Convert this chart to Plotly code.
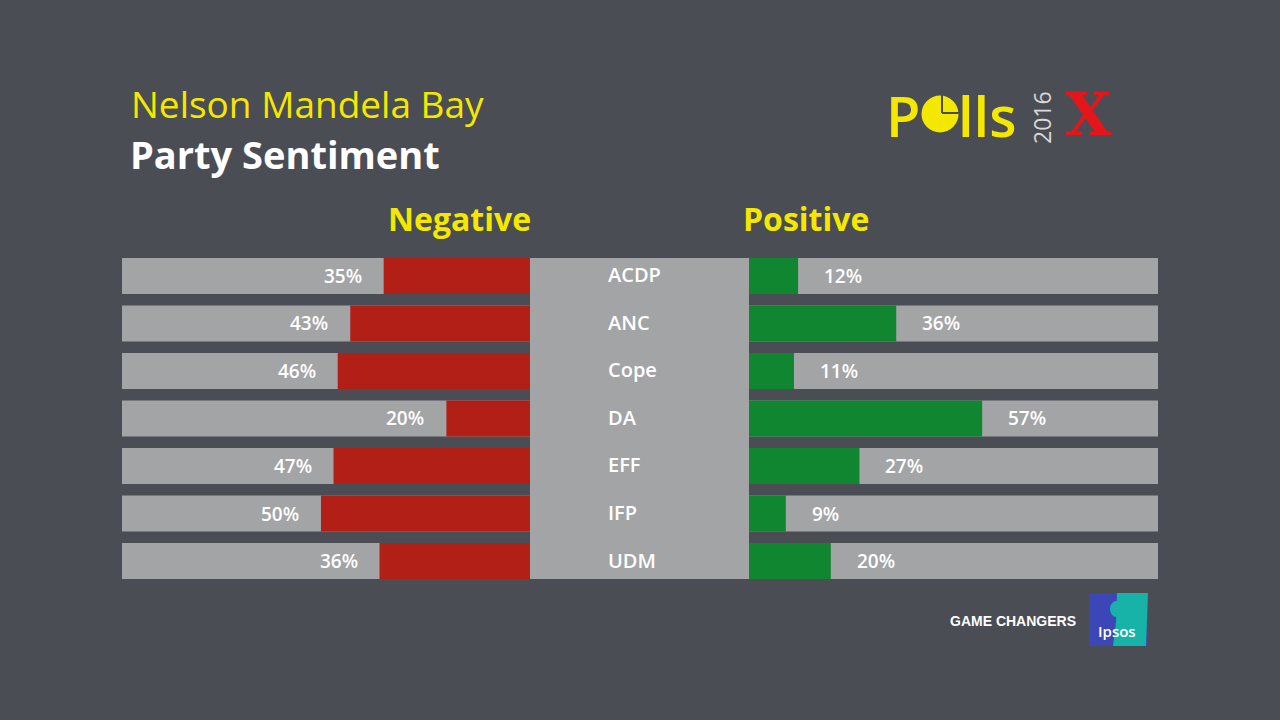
import plotly.graph_objects as go

# ---------------- data ----------------
parties = ["ACDP", "ANC", "Cope", "DA", "EFF", "IFP", "UDM"]
negative = [35, 43, 46, 20, 47, 50, 36]
positive = [12, 36, 11, 57, 27, 9, 20]
full_scale = [100, 100, 100, 100, 100, 100, 100]

title_line1 = "Nelson Mandela Bay"
title_line2 = "Party Sentiment"
neg_header = "Negative"
pos_header = "Positive"

# ---------------- style ----------------
W, H = 1280, 720
BG = "#4b4d54"
GREY = "#a3a4a6"
RED = "#b11f16"
GREEN = "#118631"
YELLOW = "#f5e800"
WHITE = "#ffffff"
FONT = "Open Sans"


def px(x):
    return x / W


def py(y):
    return 1 - y / H


fig = go.Figure()

# negative side (reversed axis)
fig.add_trace(go.Bar(y=parties, x=full_scale, orientation="h", marker=dict(color=GREY, line=dict(width=0)),
                     xaxis="x", yaxis="y", hoverinfo="skip", showlegend=False))
fig.add_trace(go.Bar(y=parties, x=negative, orientation="h", marker=dict(color=RED, line=dict(width=0)),
                     xaxis="x", yaxis="y", hoverinfo="skip", showlegend=False))
# positive side
fig.add_trace(go.Bar(y=parties, x=full_scale, orientation="h", marker=dict(color=GREY, line=dict(width=0)),
                     xaxis="x2", yaxis="y", hoverinfo="skip", showlegend=False))
fig.add_trace(go.Bar(y=parties, x=positive, orientation="h", marker=dict(color=GREEN, line=dict(width=0)),
                     xaxis="x2", yaxis="y", hoverinfo="skip", showlegend=False))

annotations = []
label_font = dict(family=FONT, size=19, color=WHITE, weight=600)
party_font = dict(family=FONT, size=20, color=WHITE, weight=600)
for p, v in zip(parties, negative):
    annotations.append(dict(x=v, y=p, xref="x", yref="y", text=f"{v}%", showarrow=False,
                            xanchor="right", yanchor="middle", xshift=-20, font=label_font))
for p, v in zip(parties, positive):
    annotations.append(dict(x=v, y=p, xref="x2", yref="y", text=f"{v}%", showarrow=False,
                            xanchor="left", yanchor="middle", xshift=24, font=label_font))
for p in parties:
    annotations.append(dict(x=px(606), y=p, xref="paper", yref="y", text=p,
                            showarrow=False, xanchor="left", yanchor="middle", yshift=1, font=party_font))

# titles
annotations += [
    dict(x=px(129), y=py(104), xref="paper", yref="paper", text=title_line1, showarrow=False,
         xanchor="left", yanchor="middle", font=dict(family=FONT, size=37, color=YELLOW)),
    dict(x=px(128), y=py(154), xref="paper", yref="paper", text=title_line2, showarrow=False,
         xanchor="left", yanchor="middle", font=dict(family=FONT, size=38, color=WHITE, weight=700)),
    dict(x=px(459), y=py(218), xref="paper", yref="paper", text=neg_header, showarrow=False,
         xanchor="center", yanchor="middle", font=dict(family=FONT, size=32, color=YELLOW, weight=700)),
    dict(x=px(806), y=py(218), xref="paper", yref="paper", text=pos_header, showarrow=False,
         xanchor="center", yanchor="middle", font=dict(family=FONT, size=32, color=YELLOW, weight=700)),
]

# Polls 2016 X logo
annotations += [
    dict(x=px(884), y=py(115), xref="paper", yref="paper", text="P", showarrow=False,
         xanchor="left", yanchor="middle", font=dict(family=FONT, size=56, color=YELLOW, weight=600)),
    dict(x=px(956), y=py(115), xref="paper", yref="paper", text="lls", showarrow=False,
         xanchor="left", yanchor="middle", font=dict(family=FONT, size=56, color=YELLOW, weight=600)),
    dict(x=px(1042), y=py(118), xref="paper", yref="paper", text="2016", showarrow=False, textangle=-90,
         xanchor="center", yanchor="middle", font=dict(family=FONT, size=23, color="#d8d8d8", weight=400)),
    dict(x=px(1088), y=py(114), xref="paper", yref="paper", text="X", showarrow=False,
         xanchor="center", yanchor="middle", font=dict(family="DejaVu Serif", size=60, color="#e3161c", weight=900)),
    dict(x=px(1013), y=py(621), xref="paper", yref="paper", text="GAME CHANGERS", showarrow=False,
         xanchor="center", yanchor="middle", font=dict(family="Liberation Sans", size=14, color=WHITE, weight=700)),
    dict(x=px(1117), y=py(631), xref="paper", yref="paper", text="Ipsos", showarrow=False,
         xanchor="center", yanchor="middle", font=dict(family=FONT, size=15, color=WHITE, weight=600)),
]

shapes = [
    # central label box
    dict(type="rect", xref="paper", yref="paper", x0=px(530), x1=px(749), y0=py(579), y1=py(258),
         fillcolor=GREY, line=dict(width=0)),
    # pie "o"
    dict(type="circle", xref="paper", yref="paper", x0=px(921.5), x1=px(958.5), y0=py(132.5), y1=py(95.5),
         fillcolor=YELLOW, line=dict(width=0)),
    dict(type="line", xref="paper", yref="paper", x0=px(942), x1=px(942), y0=py(95), y1=py(113),
         line=dict(color=BG, width=2)),
    dict(type="line", xref="paper", yref="paper", x0=px(942), x1=px(959), y0=py(113), y1=py(113),
         line=dict(color=BG, width=2)),
    # Ipsos logo
    dict(type="rect", xref="paper", yref="paper", x0=px(1089), x1=px(1148), y0=py(646), y1=py(593),
         fillcolor="#3b47b7", line=dict(width=0)),
    dict(type="path", xref="paper", yref="paper",
         path=f"M {px(1117)} {py(593)} L {px(1148)} {py(593)} L {px(1146)} {py(646)} L {px(1113)} {py(646)} "
              f"L {px(1116)} {py(622)} Z",
         fillcolor="#17b3a9", line=dict(width=0)),
    dict(type="circle", xref="paper", yref="paper", x0=px(1110), x1=px(1123), y0=py(617), y1=py(601),
         fillcolor="#17b3a9", line=dict(width=0)),
]

fig.update_layout(
    width=W, height=H,
    margin=dict(l=0, r=0, t=0, b=0),
    paper_bgcolor=BG, plot_bgcolor="rgba(0,0,0,0)",
    barmode="overlay", bargap=0.24,
    xaxis=dict(domain=[px(122), px(530)], range=[97.6, 0], visible=False, fixedrange=True),
    xaxis2=dict(domain=[px(749), px(1158)], range=[0, 100], anchor="y", visible=False, fixedrange=True),
    yaxis=dict(domain=[py(584.75), py(252.25)], range=[6.5, -0.5], type="category", visible=False,
               fixedrange=True),
    annotations=annotations,
    shapes=shapes,
    showlegend=False,
)

fig.write_html(
    "out.html",
    config=dict(displayModeBar=False),
    post_script="document.body.style.margin='0';document.body.style.overflow='hidden';",
)
